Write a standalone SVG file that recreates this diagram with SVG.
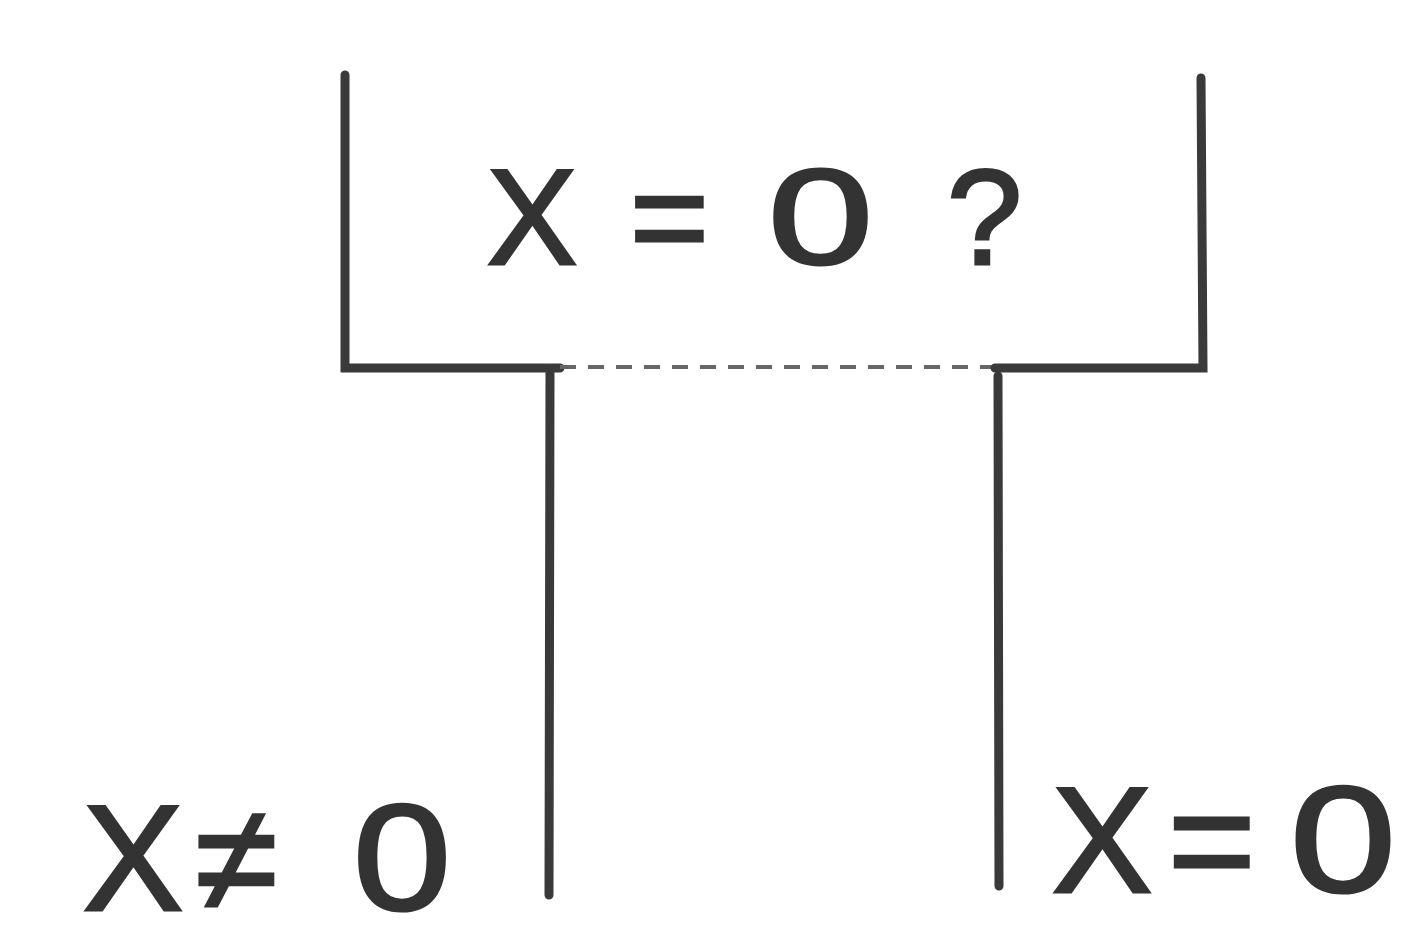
<svg xmlns="http://www.w3.org/2000/svg" width="1413" height="947" viewBox="0 0 1413 947">
<style>
.ln{stroke:#3a3a3a;stroke-width:9;stroke-linecap:round;fill:none}
.thin{stroke:#666;stroke-width:4;stroke-dasharray:16 12;fill:none}
.t{font-family:"Liberation Sans",Arial,sans-serif;fill:#333;stroke:#333;stroke-width:3}
</style>
<rect width="1413" height="947" fill="#fff"/>
<g id="decision">
<path class="ln" d="M345 75 L345 368 L560 368"/>
<path class="thin" d="M560 367 L995 367"/>
<path class="ln" d="M995 368 L1203 368 L1201 78"/>
<text class="t" font-size="135" y="264"><tspan x="487">X</tspan><tspan x="630">=</tspan><tspan x="768" textLength="105" lengthAdjust="spacingAndGlyphs">0</tspan><tspan x="947">?</tspan></text>
</g>
<g id="connectors">
<path class="ln" d="M550 372 L549 895"/>
<path class="ln" d="M998 376 L999 886"/>
</g>
<g id="no-branch">
<text class="t" font-size="150" y="910"><tspan x="83">X</tspan><tspan x="195">≠</tspan><tspan x="353" textLength="98" lengthAdjust="spacingAndGlyphs">0</tspan></text>
</g>
<g id="yes-branch">
<text class="t" font-size="150" y="892"><tspan x="1052">X</tspan><tspan x="1168">=</tspan><tspan x="1290" textLength="106" lengthAdjust="spacingAndGlyphs">0</tspan></text>
</g>
</svg>
